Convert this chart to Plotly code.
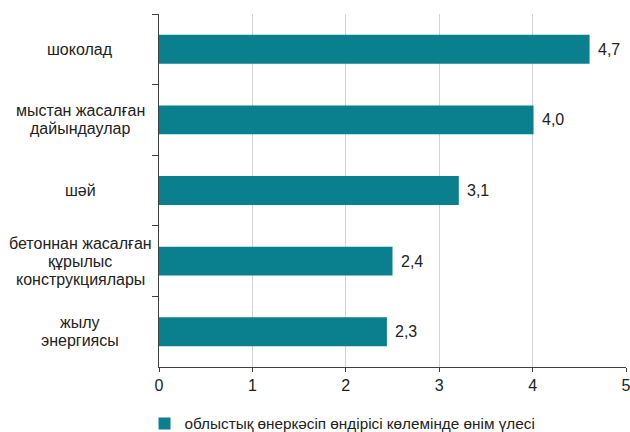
import plotly.graph_objects as go

categories = ["шоколад", "мыстан жасалған\nдайындаулар", "шәй",
              "бетоннан жасалған\nқұрылыс\nконструкциялары", "жылу\nэнергиясы"]
values = [4.61, 4.01, 3.21, 2.50, 2.44]
value_labels = ["4,7", "4,0", "3,1", "2,4", "2,3"]
x_ticks = [0, 1, 2, 3, 4, 5]
series_name = "облыстық өнеркәсіп өндірісі көлемінде өнім үлесі"

BAR = "#0A7F8E"
FONT = "Liberation Sans, Arial, sans-serif"
TXT = "#222222"

ids = [c.replace("\n", " ") for c in categories]

fig = go.Figure()
fig.add_trace(go.Bar(
    x=values, y=ids, orientation="h", marker_color=BAR,
    marker_line_width=0, name=series_name, showlegend=True,
))

annotations = []
line_h = 18
for cid, cat in zip(ids, categories):
    lines = cat.split("\n")
    n = len(lines)
    for i, ln in enumerate(lines):
        annotations.append(dict(
            x=0, xref="paper", y=cid, yref="y", text=ln, showarrow=False,
            xanchor="center", yanchor="middle", xshift=-79,
            yshift=((n - 1) / 2 - i) * line_h,
            font=dict(family=FONT, size=16, color=TXT),
        ))
for cid, v, lab in zip(ids, values, value_labels):
    annotations.append(dict(
        x=v, xref="x", y=cid, yref="y", text=lab, showarrow=False,
        xanchor="left", yanchor="middle", xshift=6,
        font=dict(family=FONT, size=16, color=TXT),
    ))

fig.update_layout(
    width=630, height=432,
    margin=dict(l=159, r=4, t=14, b=65, autoexpand=False),
    paper_bgcolor="white", plot_bgcolor="white",
    bargap=0.59,
    font=dict(family=FONT, size=15, color=TXT),
    annotations=annotations,
    showlegend=True,
    legend=dict(orientation="h", x=-0.031, xanchor="left", y=-0.16,
                yanchor="middle", font=dict(family=FONT, size=15.3, color=TXT),
                bgcolor="rgba(0,0,0,0)"),
)
fig.update_xaxes(
    range=[0, 5], tickvals=x_ticks, ticktext=[str(t) for t in x_ticks],
    showgrid=True, gridcolor="#d3d3d3", gridwidth=1,
    showline=True, linecolor="#404040", linewidth=1,
    ticks="outside", ticklen=4, tickcolor="#404040",
    ticklabeloverflow="allow",
    zeroline=False, tickfont=dict(family=FONT, size=16, color=TXT),
)
fig.update_yaxes(
    autorange="reversed", showticklabels=False,
    showline=True, linecolor="#404040", linewidth=1,
    ticks="outside", ticklen=6, tickcolor="#404040",
    tickson="boundaries", showgrid=False, zeroline=False,
)

fig.write_html("out.html", config={"displayModeBar": False},
               post_script="document.body.style.margin='0';document.body.style.overflow='hidden';")
